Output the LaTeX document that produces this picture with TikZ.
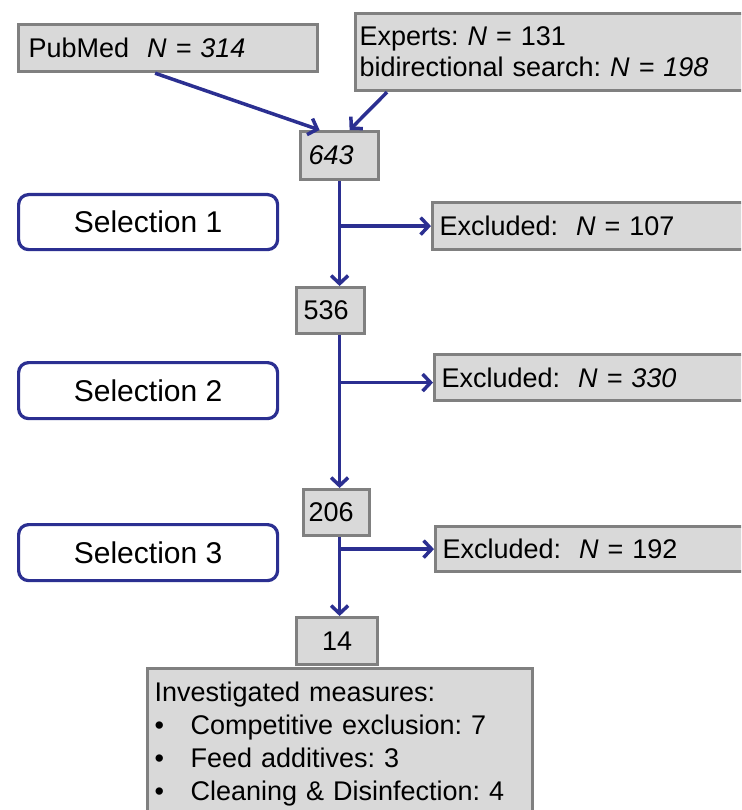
\documentclass[tikz,border=0pt]{standalone}
\usepackage{fontspec}
\setmainfont{Liberation Sans}
\usetikzlibrary{arrows.meta}
\definecolor{flowblue}{RGB}{43,47,145}
\definecolor{boxgray}{RGB}{128,128,128}
\definecolor{boxfill}{RGB}{217,217,217}
\frenchspacing
\tikzset{
  graybox/.style={draw=boxgray,fill=boxfill,line width=3.2pt,anchor=north west,align=left,inner ysep=0pt},
  selbox/.style={draw=flowblue,line width=3.2pt,rounded corners=10pt,anchor=north west,
    minimum width=259pt,minimum height=55pt,font=\fontsize{30}{35}\selectfont},
  flow/.style={draw=flowblue,line width=3.5pt,-{Straight Barb[length=8pt,width=17pt]}}
}
\begin{document}
\begin{tikzpicture}[x=1pt,y=-1pt,font=\fontsize{27}{31}\selectfont]
\useasboundingbox (0,0) rectangle (741,810);
\clip (0,0) rectangle (741,810);
%\draw[thin,dotted] (0,0) grid (741,810);
\node[graybox,inner xsep=10pt,text width=279pt,minimum height=47pt] (pubmed) at (17,23) {PubMed~~\textit{N = 314}};
\node[graybox,inner xsep=4pt,text width=412pt,minimum height=77pt] (experts) at (354,12) {Experts: \textit{N} = 131\\bidirectional search: \textit{N = 198}};
\node[graybox,inner xsep=8pt,text width=62pt,minimum height=48pt] (n643) at (299,130) {\textit{643}};
\node[selbox] (sel1) at (17,193) {Selection 1};
\node[graybox,inner xsep=7pt,text width=316pt,minimum height=47pt] (excl1) at (431,201) {Excluded:~~\textit{N} = 107};
\node[graybox,inner xsep=7pt,text width=54pt,minimum height=46pt] (n536) at (295,286) {536};
\node[selbox,minimum height=56pt] (sel2) at (17,361) {Selection 2};
\node[graybox,inner xsep=7pt,text width=316pt,minimum height=46pt] (excl2) at (433,353) {Excluded:~~\textit{N = 330}};
\node[graybox,inner xsep=5pt,text width=56pt,minimum height=46pt] (n206) at (302,488) {206};
\node[selbox,minimum height=56pt] (sel3) at (17,523) {Selection 3};
\node[graybox,inner xsep=7pt,text width=316pt,minimum height=45pt] (excl3) at (434,525) {Excluded:~~\textit{N} = 192};
\node[graybox,inner xsep=0pt,text width=81pt,align=center,minimum height=47pt] (n14) at (295,616) {14};
\node[graybox,inner xsep=7pt,inner ysep=10pt,text width=371pt,font=\fontsize{27}{33}\selectfont] (invest) at (146,667)
  {\strut Investigated measures:\\
   \makebox[36pt][l]{\textbullet}Competitive exclusion: 7\\
   \makebox[36pt][l]{\textbullet}Feed additives: 3\\
   \makebox[36pt][l]{\textbullet}Cleaning \& Disinfection: 4\strut};
\coordinate (br2) at ([yshift=-5pt]excl2.west);
\draw[flow] ([xshift=-13pt]pubmed.south) -- ([xshift=-20pt]n643.north);
\draw[flow] ([xshift=33pt]experts.south west) -- ([xshift=10pt]n643.north);
\draw[flow] (n643.south) -- (n643.south |- n536.north);
\draw[flow] (n643.south |- excl1.west) -- (excl1.west);
\draw[flow] (n643.south |- n536.south) -- (n643.south |- n206.north);
\draw[flow] (n643.south |- br2) -- (br2);
\draw[flow] (n643.south |- n206.south) -- (n643.south |- n14.north);
\draw[flow] (n643.south |- excl3.west) -- (excl3.west);
\end{tikzpicture}
\end{document}
